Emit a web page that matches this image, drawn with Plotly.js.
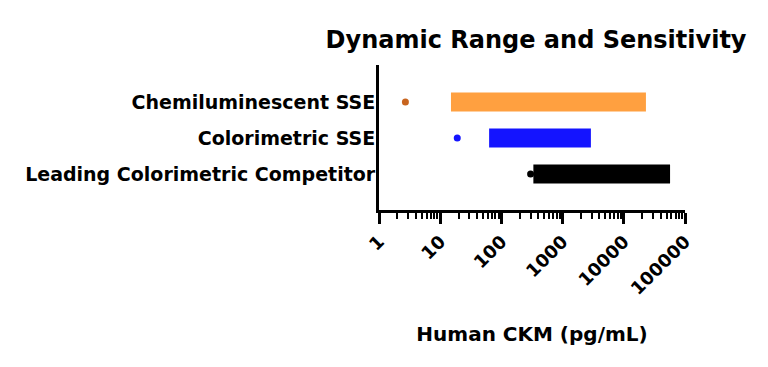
<!DOCTYPE html>
<html><head><meta charset="utf-8">
<script src="https://cdn.plot.ly/plotly-3.0.1.min.js"></script>
<style>html,body{margin:0;padding:0;background:#fff}#chart{width:768px;height:367px}</style>
</head><body><div id="chart"></div>
<script>
var categories = ["Leading Colorimetric Competitor", "Colorimetric SSE", "Chemiluminescent SSE"];
var rangeStart = [333, 63, 15];
var rangeEnd = [57000, 2900, 23000];
var sensitivity = [300, 19, 2.7];
var barColors = ["#000000", "#1414ff", "#ffa040"];
var dotColors = ["#000000", "#1414ff", "#c8641e"];
var tickVals = [1, 10, 100, 1000, 10000, 100000];
var tickText = ["1", "10", "100", "1000", "10000", "100000"];

var FONT = "'DejaVu Sans', sans-serif";

var bars = {
  type: "bar", orientation: "h",
  y: categories,
  base: rangeStart,
  x: rangeEnd.map(function(e, i){ return e - rangeStart[i]; }),
  width: 0.53,
  marker: {color: barColors, line: {width: 0}},
  hoverinfo: "skip", showlegend: false
};
var dots = {
  type: "scatter", mode: "markers",
  y: categories, x: sensitivity,
  marker: {color: dotColors, size: 7},
  hoverinfo: "skip", showlegend: false
};

var layout = {
  width: 768, height: 367,
  margin: {l: 379, r: 83, t: 65, b: 157},
  paper_bgcolor: "#fff", plot_bgcolor: "#fff",
  title: {text: "<b>Dynamic Range and Sensitivity</b>", font: {family: FONT, size: 24, color: "#000"},
          x: 0.698, xanchor: "center", y: 0.893, yanchor: "middle"},
  xaxis: {
    type: "log", range: [0, 5],
    showgrid: false, zeroline: false,
    showline: true, linecolor: "#000", linewidth: 3,
    ticks: "outside", ticklen: 11, tickwidth: 3, tickcolor: "#000",
    tickvals: tickVals, ticktext: tickText, tickangle: -45,
    tickfont: {family: FONT, size: 18, color: "#000", weight: "bold"},
    minor: {ticks: "outside", ticklen: 6, tickwidth: 2, tickcolor: "#000", dtick: "D1", showgrid: false},
    title: {text: "<b>Human CKM (pg/mL)</b>", font: {family: FONT, size: 20, color: "#000"}, standoff: 30}
  },
  yaxis: {
    type: "category", categoryorder: "array", categoryarray: categories,
    range: [-1, 3.03],
    showgrid: false, zeroline: false,
    showline: true, linecolor: "#000", linewidth: 3,
    ticks: "", ticklen: 0, ticklabelstandoff: -3,
    tickfont: {family: FONT, size: 19, color: "#000", weight: "bold"}
  }
};
Plotly.newPlot("chart", [bars, dots], layout, {displayModeBar: false, staticPlot: true});
</script></body></html>
